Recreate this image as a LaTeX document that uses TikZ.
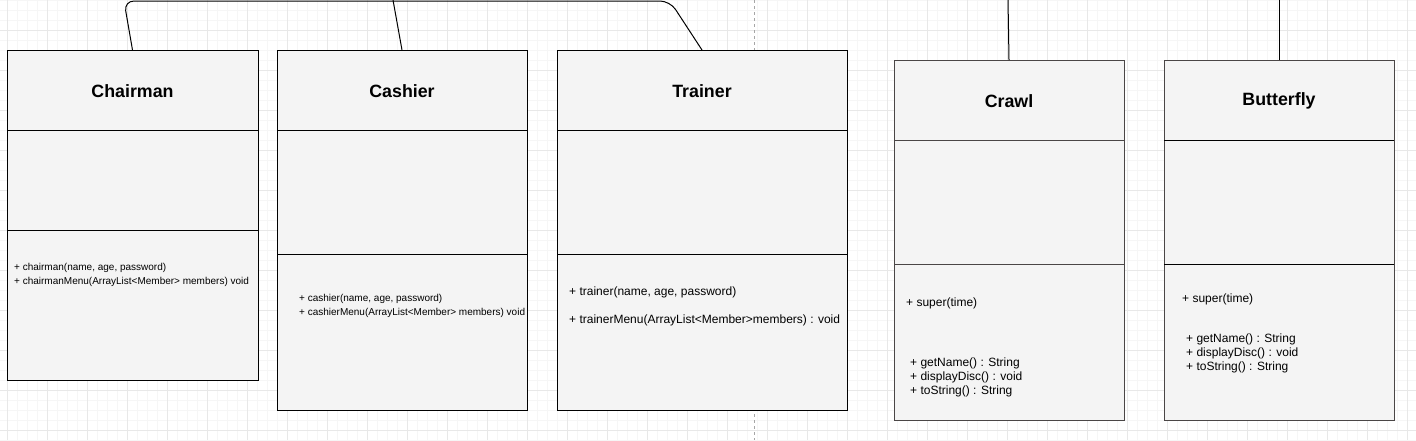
\documentclass[tikz,border=0pt]{standalone}
\usepackage{fontspec}
\setmainfont{Liberation Sans}
\definecolor{boxfill}{HTML}{F4F4F4}
\definecolor{minorgrid}{HTML}{F6F6F6}
\definecolor{majorgrid}{HTML}{E8E8E8}
\definecolor{graybox}{HTML}{4A4646}
\begin{document}
\begin{tikzpicture}[x=1pt,y=-1pt,
  box/.style={draw=black, line width=1pt, fill=boxfill, anchor=north west, inner sep=0pt, outer sep=0pt},
  gbox/.style={box, draw=graybox},
  divider/.style={line width=1pt},
  ttl/.style={font=\bfseries\fontsize{17.8}{20}\selectfont, inner sep=0pt},
  msmall/.style={font=\fontsize{10}{12}\selectfont, anchor=west, inner sep=0pt},
  mlarge/.style={font=\fontsize{12}{14}\selectfont, anchor=west, inner sep=0pt},
  conn/.style={draw=black, line width=1pt}]
\useasboundingbox (0,0) rectangle (1416,440);
% background and grid
\begin{scope}
\clip (0,0) rectangle (1416,440);
\fill[white] (0,0) rectangle (1416,440);
\foreach \gx in {-3,7,...,1416} \draw[minorgrid, line width=0.6pt] (\gx,0) -- (\gx,440);
\foreach \gy in {0,10,...,440} \draw[minorgrid, line width=0.6pt] (0,\gy) -- (1416,\gy);
\foreach \gx in {7,47,...,1416} \draw[majorgrid, line width=0.8pt] (\gx,0) -- (\gx,440);
\foreach \gy in {30,70,...,440} \draw[majorgrid, line width=0.8pt] (0,\gy) -- (1416,\gy);
\draw[gray!70, dash pattern=on 3pt off 3pt, line width=0.6pt] (754.5,0) -- (754.5,440);
\end{scope}

% boxes
\node[box, minimum width=251pt, minimum height=330pt] (chairman) at (7,50) {};
\node[box, minimum width=250pt, minimum height=360pt] (cashier) at (277,50) {};
\node[box, minimum width=290pt, minimum height=360pt] (trainer) at (557,50) {};
\node[gbox, minimum width=230pt, minimum height=360pt] (crawl) at (894,60) {};
\node[gbox, minimum width=230pt, minimum height=360pt] (butterfly) at (1164,60) {};

% dividers
\draw[divider] (7,130) -- (258,130);
\draw[divider] (7,230) -- (258,230);
\draw[divider] (277,130) -- (527,130);
\draw[divider] (277,254) -- (527,254);
\draw[divider] (557,130) -- (847,130);
\draw[divider] (557,254) -- (847,254);
\draw[divider, graybox] (894,140) -- (1124,140);
\draw[divider, graybox] (894,264) -- (1124,264);
\draw[divider] (1164,140) -- (1394,140);
\draw[divider] (1164,264) -- (1394,264);

% titles
\node[ttl] (chairmanT) at (132.5,91) {Chairman};
\node[ttl] (cashierT) at (402,91) {Cashier};
\node[ttl] (trainerT) at (702,91) {Trainer};
\node[ttl] (crawlT) at (1009,101) {Crawl};
\node[ttl] (butterflyT) at (1279,101) {Butterfly};

% methods
\node[msmall] (ch1) at (14,268) {+ chairman(name, age, password)};
\node[msmall] (ch2) at (14,282) {+ chairmanMenu(ArrayList<Member> members) void};
\node[msmall] (ca1) at (299,299) {+ cashier(name, age, password)};
\node[msmall] (ca2) at (299,313) {+ cashierMenu(ArrayList<Member> members) void};
\node[mlarge] (tr1) at (569,292) {+ trainer(name, age, password)};
\node[mlarge] (tr2) at (569,320) {+ trainerMenu(ArrayList<Member>members) : void};
\node[mlarge] (cr1) at (906,303) {+ super(time)};
\node[mlarge] (cr2) at (910,363) {+ getName() : String};
\node[mlarge] (cr3) at (910,377) {+ displayDisc() : void};
\node[mlarge] (cr4) at (910,391) {+ toString() : String};
\node[mlarge] (bu1) at (1182,299) {+ super(time)};
\node[mlarge] (bu2) at (1186,339) {+ getName() : String};
\node[mlarge] (bu3) at (1186,353) {+ displayDisc() : void};
\node[mlarge] (bu4) at (1186,367) {+ toString() : String};

% connectors
\coordinate (topL) at (124,1);
\coordinate (topR) at (670,1);
\coordinate (cashTop) at (393,0);
\coordinate (crawlTop) at (1008,0);
\coordinate (butTop) at (1279,0);
\draw[conn, rounded corners=10pt] (chairman.north) -- (topL) -- (topR) -- (trainer.north);
\draw[conn] (cashier.north) -- (cashTop);
\draw[conn] (crawl.north) -- (crawlTop);
\draw[conn] (butterfly.north) -- (butTop);
\end{tikzpicture}
\end{document}
